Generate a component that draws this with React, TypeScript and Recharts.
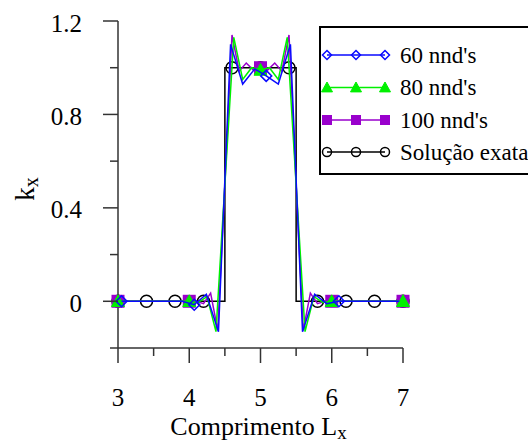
import React from 'react';
import { ScatterChart, Scatter, XAxis, YAxis } from 'recharts';

// ---- data ----
const seriesNames = ["60 nnd's", "80 nnd's", "100 nnd's", 'Solução exata'];

const xTicks = [3, 3.5, 4, 4.5, 5, 5.5, 6, 6.5, 7];
const xMajor = [3, 4, 5, 6, 7];
const yTicks = [-0.2, 0, 0.2, 0.4, 0.6, 0.8, 1.0, 1.2];
const yMajor = [0, 0.4, 0.8, 1.2];

const n60X = [3.05, 3.22, 3.39, 3.56, 3.73, 3.9, 4.07, 4.24, 4.41, 4.58, 4.75, 4.92, 5.08, 5.25, 5.42, 5.59, 5.76, 5.93, 6.1, 6.27, 6.44, 6.61, 6.78, 6.95];
const n60Y = [0, 0, 0, 0, 0, 0, -0.015, 0.03, -0.13, 1.1, 0.93, 0.995, 0.965, 0.93, 1.1, -0.13, 0.03, -0.01, 0, 0, 0, 0, 0, 0];
const n60Marks = [3.05, 4.07, 5.08, 6.1];

const n80X = [3, 4, 4.125, 4.25, 4.375, 4.5, 4.625, 4.75, 4.875, 5, 5.125, 5.25, 5.375, 5.5, 5.625, 5.75, 5.875, 6, 7];
const n80Y = [0, 0, -0.005, 0.02, -0.13, 0.5, 1.13, 0.95, 1.0, 0.99, 1.0, 0.95, 1.13, 0.5, -0.13, 0.02, -0.005, 0, 0];
const n80Marks = [3, 4, 5, 6, 7];

const n100X = [3, 4, 4.1, 4.2, 4.3, 4.4, 4.5, 4.6, 4.7, 4.8, 4.9, 5, 5.1, 5.2, 5.3, 5.4, 5.5, 5.6, 5.7, 5.8, 5.9, 6, 7];
const n100Y = [0, 0, 0, -0.01, 0.035, -0.125, 0.5, 1.14, 0.985, 1.02, 0.99, 1.0, 0.99, 1.02, 0.985, 1.14, 0.5, -0.125, 0.035, -0.01, 0, 0, 0];
const n100Marks = [3, 4, 5, 6, 7];

const exactX = [3, 3.4, 3.8, 4.2, 4.5, 4.5, 4.6, 5.0, 5.4, 5.5, 5.5, 5.8, 6.2, 6.6, 7.0];
const exactY = [0, 0, 0, 0, 0, 1, 1, 1, 1, 1, 0, 0, 0, 0, 0];
const exactMarks = [3, 3.4, 3.8, 4.2, 4.6, 5.0, 5.4, 5.8, 6.2, 6.6, 7.0];

// ---- helpers ----
const near = (a: number, list: number[]) => list.some((v) => Math.abs(v - a) < 1e-6);
const build = (xs: number[], ys: number[], marks: number[]) =>
  xs.map((x, i) => ({ x, y: ys[i], m: near(x, marks) }));

const d60 = build(n60X, n60Y, n60Marks);
const d80 = build(n80X, n80Y, n80Marks);
const d100 = build(n100X, n100Y, n100Marks);
const dExact = build(exactX, exactY, exactMarks);

const BLUE = '#0a0aff';
const GREEN = '#00f000';
const PURPLE = '#9900cc';
const BLACK = '#000000';
const AXIS = '#333333';
const FONT = '"Liberation Serif"';
const fs = (size: number): React.CSSProperties => ({ fontFamily: FONT, fontSize: size });

type Kind = 'diamond' | 'triangle' | 'square' | 'circle';

const marker = (kind: Kind, cx: number, cy: number, color: string, s: number) => {
  if (kind === 'diamond')
    return (
      <polygon
        points={`${cx},${cy - s} ${cx + s},${cy} ${cx},${cy + s} ${cx - s},${cy}`}
        fill="none"
        stroke={color}
        strokeWidth={1.5}
      />
    );
  if (kind === 'triangle')
    return (
      <polygon
        points={`${cx},${cy - s} ${cx + s},${cy + s * 0.8} ${cx - s},${cy + s * 0.8}`}
        fill={color}
        stroke={color}
        strokeWidth={1}
      />
    );
  if (kind === 'square')
    return <rect x={cx - s} y={cy - s} width={2 * s} height={2 * s} fill={color} />;
  return <circle cx={cx} cy={cy} r={s} fill="none" stroke={color} strokeWidth={1.5} />;
};

const makeShape = (kind: Kind, color: string, s: number) => (props: any) => {
  const { cx, cy, payload } = props;
  if (!payload || !payload.m || cx == null || cy == null) return <g />;
  return <g>{marker(kind, cx, cy, color, s)}</g>;
};

const XTick = (props: any) => {
  const { x, y, payload } = props;
  const v = payload.value;
  const major = near(v, xMajor);
  return (
    <g>
      <line x1={x} y1={y} x2={x} y2={y + (major ? 15 : 8)} stroke={AXIS} strokeWidth={1.5} />
      {major && (
        <text x={x} y={y + 58} textAnchor="middle" style={fs(25)} fill="#000">
          {String(v)}
        </text>
      )}
    </g>
  );
};

const YTick = (props: any) => {
  const { x, y, payload } = props;
  const v = payload.value;
  const major = near(v, yMajor);
  return (
    <g>
      <line x1={x - (major ? 15 : 8)} y1={y} x2={x} y2={y} stroke={AXIS} strokeWidth={1.5} />
      {major && (
        <text x={x - 36} y={y + 2} textAnchor="end" dominantBaseline="central" style={fs(25)} fill="#000">
          {String(Math.round(v * 10) / 10)}
        </text>
      )}
    </g>
  );
};

const XLabel = (props: any) => {
  const vb = props.viewBox || { x: 118, y: 348, width: 285, height: 95 };
  return (
    <text x={vb.x + vb.width / 2 - 2} y={vb.y + 87} textAnchor="middle" style={fs(26)} fill="#000">
      Comprimento L<tspan dy={4} style={fs(19)}>x</tspan>
    </text>
  );
};

const YLabel = (props: any) => {
  const vb = props.viewBox || { x: 0, y: 21, width: 118, height: 327 };
  const cx = 34;
  const cy = vb.y + 168;
  return (
    <text transform={`translate(${cx},${cy}) rotate(-90)`} x={0} y={0} textAnchor="middle" style={fs(27)} fill="#000">
      k<tspan dy={4} style={fs(20)}>x</tspan>
    </text>
  );
};

const legendRows = [
  { name: seriesNames[0], kind: 'diamond' as Kind, color: BLUE, s: 4.5 },
  { name: seriesNames[1], kind: 'triangle' as Kind, color: GREEN, s: 5.5 },
  { name: seriesNames[2], kind: 'square' as Kind, color: PURPLE, s: 5 },
  { name: seriesNames[3], kind: 'circle' as Kind, color: BLACK, s: 4.5 },
];
const legendRowY = [55, 87.5, 120, 152];

export default function App() {
  return (
    <div style={{ position: 'absolute', left: 0, top: 0, width: 528, height: 443, overflow: 'hidden', background: '#fff' }}>
      <ScatterChart width={528} height={443} margin={{ top: 21, right: 125, bottom: 0, left: 0 }}>
        <XAxis
          type="number"
          dataKey="x"
          domain={[3, 7]}
          ticks={xTicks}
          interval={0}
          height={95}
          tickSize={0}
          tickMargin={0}
          tick={<XTick />}
          axisLine={{ stroke: AXIS, strokeWidth: 1.5 }}
          tickLine={false}
          label={<XLabel />}
        />
        <YAxis
          type="number"
          dataKey="y"
          domain={[-0.2, 1.2]}
          ticks={yTicks}
          interval={0}
          width={118}
          tickSize={0}
          tickMargin={0}
          tick={<YTick />}
          axisLine={{ stroke: AXIS, strokeWidth: 1.5 }}
          tickLine={false}
          label={<YLabel />}
        />
        <Scatter
          name={seriesNames[3]}
          data={dExact}
          line={{ stroke: BLACK, strokeWidth: 1.5 }}
          lineType="joint"
          lineJointType="linear"
          shape={makeShape('circle', BLACK, 6)}
          isAnimationActive={false}
        />
        <Scatter
          name={seriesNames[2]}
          data={d100}
          line={{ stroke: PURPLE, strokeWidth: 1.5 }}
          lineType="joint"
          lineJointType="linear"
          shape={makeShape('square', PURPLE, 6.5)}
          isAnimationActive={false}
        />
        <Scatter
          name={seriesNames[1]}
          data={d80}
          line={{ stroke: GREEN, strokeWidth: 1.5 }}
          lineType="joint"
          lineJointType="linear"
          shape={makeShape('triangle', GREEN, 6.5)}
          isAnimationActive={false}
        />
        <Scatter
          name={seriesNames[0]}
          data={d60}
          line={{ stroke: BLUE, strokeWidth: 1.5 }}
          lineType="joint"
          lineJointType="linear"
          shape={makeShape('diamond', BLUE, 5.5)}
          isAnimationActive={false}
        />
      </ScatterChart>
      <svg width={528} height={443} style={{ position: 'absolute', left: 0, top: 0, pointerEvents: 'none' }}>
        <rect x={320} y={27} width={240} height={147} fill="#fff" stroke="#000" strokeWidth={2} />
        {legendRows.map((r, i) => {
          const y = legendRowY[i];
          return (
            <g key={r.name}>
              <line x1={327} y1={y} x2={385} y2={y} stroke={r.color} strokeWidth={1.5} />
              {marker(r.kind, 327, y, r.color, r.s)}
              {marker(r.kind, 356, y, r.color, r.s)}
              {marker(r.kind, 385, y, r.color, r.s)}
              <text x={400} y={y} dominantBaseline="central" style={fs(23)} fill="#000">
                {r.name}
              </text>
            </g>
          );
        })}
      </svg>
    </div>
  );
}
